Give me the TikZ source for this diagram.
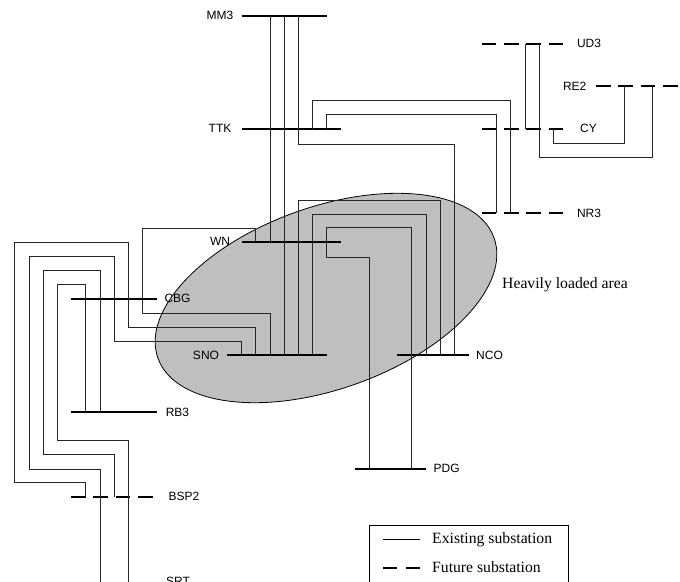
\documentclass[tikz,border=0pt]{standalone}
\usepackage{fontspec}
\setmainfont{Liberation Serif}
\newfontfamily\lblfont{Liberation Sans}
\usetikzlibrary{shapes.geometric}
\tikzset{
  busline/.style={line width=2pt,black},
  futurebus/.style={line width=2pt,black,dash pattern=on 14.7pt off 7.6pt},
  feeder/.style={line width=0.75pt,black!85,line join=miter},
  area/.style={draw=black,line width=0.8pt,fill=black!25,ellipse,inner sep=0pt},
  lbl/.style={font=\lblfont\fontsize{12}{12}\selectfont,inner sep=0pt,text=black},
  serif/.style={font=\fontsize{15.7}{15.7}\selectfont,inner sep=0pt,text=black,anchor=west},
}
\newcommand{\mybus}[5]{\coordinate (#1) at (#2,#4); \coordinate (#1e) at (#3,#4); \draw[#5] (#1) -- (#1e);}
\begin{document}
\begin{tikzpicture}[x=1pt,y=-1pt]
\useasboundingbox (0,0) rectangle (680,581);
\clip (0,0) rectangle (680,581);
\fill[white] (0,0) rectangle (680,581);
\node[area,rotate=19.7,minimum width=357pt,minimum height=182pt] (loaded) at (326,298) {};
\mybus{mmt}{241.7}{327}{15.5}{busline}
\mybus{ttk}{241.7}{341}{128.8}{busline}
\mybus{wn}{241.7}{341}{242}{busline}
\mybus{sno}{226.7}{327}{355}{busline}
\mybus{nco}{397}{468.7}{355}{busline}
\mybus{pdg}{354.7}{426}{468.7}{busline}
\mybus{cbg}{71}{156.7}{298.7}{busline}
\mybus{rbt}{71}{156.7}{412}{busline}
\mybus{bsp}{71}{156}{496.7}{futurebus}
\mybus{udt}{481.7}{564}{44}{futurebus}
\mybus{cy}{481.7}{564}{128.8}{futurebus}
\mybus{nrt}{481.7}{564}{213.3}{futurebus}
\mybus{ret}{596}{678}{86.3}{futurebus}
\coordinate (bottom) at (0,590);
% Feeders
\draw[feeder] (270,0 |- mmt) -- (270,0 |- wn);
\draw[feeder] (284,0 |- mmt) -- (284,0 |- sno);
\draw[feeder] (298,0 |- mmt) -- (298,144) -- (454,144) -- (454,0 |- nco);
\draw[feeder] (312,0 |- ttk) -- (312,100) -- (510.8,100) -- (510.8,0 |- nrt);
\draw[feeder] (326.5,0 |- ttk) -- (326.5,114) -- (496.7,114) -- (496.7,0 |- nrt);
\draw[feeder] (298,0 |- sno) -- (298,200) -- (440,200) -- (440,0 |- nco);
\draw[feeder] (312,0 |- sno) -- (312,214) -- (426,214) -- (426,0 |- nco);
\draw[feeder] (411.8,0 |- pdg) -- (411.8,227) -- (326.5,227) -- (326.5,257.3) -- (369.3,257.3) -- (369.3,0 |- pdg);
\draw[feeder] (255.8,0 |- wn) -- (255.8,228) -- (142.5,228) -- (142.5,313) -- (270,313) -- (270,0 |- sno);
\draw[feeder] (255.8,0 |- sno) -- (255.8,327.3) -- (128,327.3) -- (128,242) -- (14.7,242) -- (14.7,482.7) -- (85.7,482.7) -- (85.7,0 |- bsp);
\draw[feeder] (241.7,0 |- sno) -- (241.7,341.3) -- (114,341.3) -- (114,256) -- (29,256) -- (29,469) -- (100,469) -- (100,0 |- bottom);
\draw[feeder] (85.7,0 |- rbt) -- (85.7,284.7) -- (57.5,284.7) -- (57.5,440.3) -- (128,440.3) -- (128,0 |- bottom);
\draw[feeder] (100,0 |- rbt) -- (100,270.7) -- (43,270.7) -- (43,454.7) -- (114,454.7) -- (114,0 |- bsp);
\draw[feeder] (525.3,0 |- udt) -- (525.3,0 |- cy);
\draw[feeder] (539.3,0 |- udt) -- (539.3,157) -- (652.7,157) -- (652.7,0 |- ret);
\draw[feeder] (553.7,0 |- cy) -- (553.7,143.3) -- (624.7,143.3) -- (624.7,0 |- ret);
% Labels
\node[lbl] (lmm) at (220,15) {MM3};
\node[lbl] (lttk) at (220,128.5) {TTK};
\node[lbl] (lwn) at (220,241) {WN};
\node[lbl] (lcbg) at (177.5,298) {CBG};
\node[lbl] (lsno) at (206,355) {SNO};
\node[lbl] (lrb) at (177.5,412) {RB3};
\node[lbl] (lbsp) at (184,496) {BSP2};
\node[lbl,anchor=north] (lsrt) at (178,577) {SRT};
\node[lbl] (lnco) at (489.5,355) {NCO};
\node[lbl] (lpdg) at (446.7,468) {PDG};
\node[lbl] (lud) at (589,43) {UD3};
\node[lbl] (lre) at (574.7,86) {RE2};
\node[lbl] (lcy) at (588.5,128) {CY};
\node[lbl] (lnr) at (589,213) {NR3};
\node[serif] (lheavy) at (502,285) {Heavily loaded area};
% Legend
\node[draw=black,line width=0.8pt,minimum width=199pt,minimum height=80pt,anchor=north west,inner sep=0pt] (legend) at (369,525) {};
\coordinate (lega) at (383,539.3); \coordinate (legb) at (420,539.3);
\coordinate (legc) at (383,568); \coordinate (legd) at (420,568);
\draw[line width=1.5pt] (lega) -- (legb);
\draw[line width=2pt,dash pattern=on 14pt off 9pt] (legc) -- (legd);
\node[serif] (lex) at (432,539.5) {Existing substation};
\node[serif] (lfu) at (432,567.5) {Future substation};
\end{tikzpicture}
\end{document}
